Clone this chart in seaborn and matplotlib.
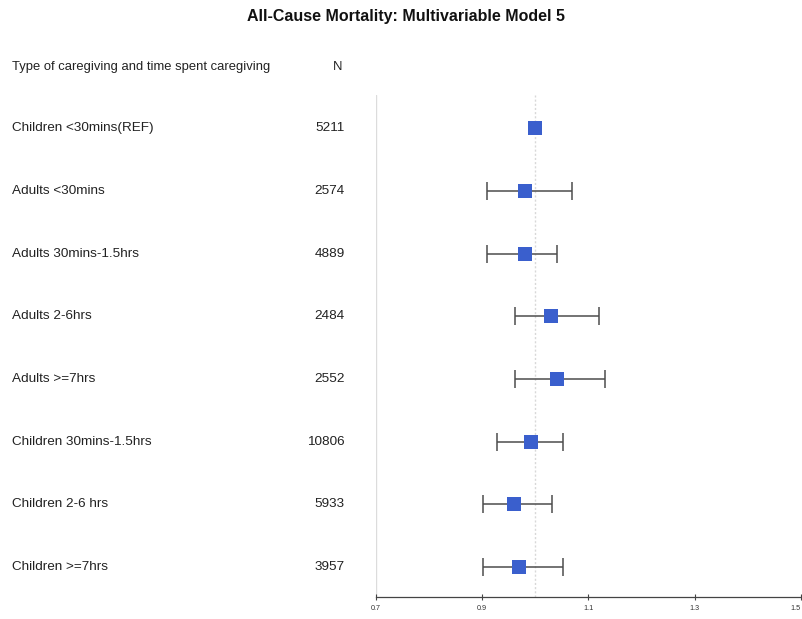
import matplotlib
matplotlib.use("Agg")
import matplotlib.pyplot as plt
import matplotlib.transforms as mtransforms
import seaborn as sns
import pandas as pd
import numpy as np

groups = ["Children <30mins(REF)", "Adults <30mins", "Adults 30mins-1.5hrs",
          "Adults 2-6hrs", "Adults >=7hrs", "Children 30mins-1.5hrs",
          "Children 2-6 hrs", "Children >=7hrs"]
n_values = ["5211", "2574", "4889", "2484", "2552", "10806", "5933", "3957"]
hr = [1.000, 0.980, 0.980, 1.030, 1.040, 0.992, 0.960, 0.969]
ci_low = [np.nan, 0.909, 0.909, 0.962, 0.962, 0.928, 0.901, 0.901]
ci_high = [np.nan, 1.069, 1.041, 1.120, 1.131, 1.052, 1.031, 1.052]
x_ticks = [0.7, 0.9, 1.1, 1.3, 1.5]
x_tick_labels = ["0.7", "0.9", "1.1", "1.3", "1.5"]

df = pd.DataFrame({"group": groups, "N": n_values, "hr": hr,
                   "lo": ci_low, "hi": ci_high, "row": range(len(groups))})

sns.set_style("white")
plt.rcParams["font.family"] = ["Liberation Sans", "DejaVu Sans"]

fig = plt.figure(figsize=(8.03, 6.19), dpi=100)
ax = fig.add_axes([376 / 803, 22 / 619, (801 - 376) / 803, (597 - 95) / 619])

# reference line and left guide line
ax.axvline(1.0, color="#d8d8d8", lw=1.0, ls=(0, (1.5, 1.5)), zorder=0)
ax.axvline(0.7, color="#dcdcdc", lw=1.0, zorder=0)

# confidence intervals
ci = df.dropna(subset=["lo", "hi"])
ax.errorbar(ci["hr"], ci["row"],
            xerr=[ci["hr"] - ci["lo"], ci["hi"] - ci["hr"]],
            fmt="none", ecolor="#4d4d4d", elinewidth=1.1,
            capsize=6.5, capthick=1.1, zorder=2)

sns.scatterplot(data=df, x="hr", y="row", marker="s", s=105,
                color="#3A5FCD", edgecolor="#3A5FCD", linewidth=0,
                ax=ax, zorder=3, legend=False)

ax.set_xlim(0.7, 1.5)
ax.set_ylim(7.48, -0.53)
ax.set_xticks(x_ticks)
ax.set_xticklabels(x_tick_labels, fontsize=5.2, color="#333333")
lbls = ax.get_xticklabels()
lbls[-1].set_horizontalalignment("right")
ax.set_yticks([])
ax.set_xlabel("")
ax.set_ylabel("")
for s in ["top", "right", "left"]:
    ax.spines[s].set_visible(False)
ax.spines["bottom"].set_color("#444444")
ax.spines["bottom"].set_linewidth(0.9)
ax.tick_params(axis="x", direction="inout", length=5, width=0.8,
               color="#444444", pad=3, bottom=True)

# left table text
trans = mtransforms.blended_transform_factory(fig.transFigure, ax.transData)
for i, row in df.iterrows():
    ax.text(12 / 803, row["row"], row["group"], transform=trans,
            ha="left", va="center", fontsize=9.7, color="#222222", clip_on=False)
    ax.text(345 / 803, row["row"], row["N"], transform=trans,
            ha="right", va="center", fontsize=9.7, color="#222222", clip_on=False)

fig.text(12 / 803, 1 - 67 / 619, "Type of caregiving and time spent caregiving",
         ha="left", va="center", fontsize=9.4, color="#222222")
fig.text(338 / 803, 1 - 67 / 619, "N", ha="center", va="center",
         fontsize=9.4, color="#222222")
fig.text(406 / 803, 1 - 17 / 619, "All-Cause Mortality: Multivariable Model 5",
         ha="center", va="center", fontsize=11.5, fontweight="bold", color="#111111")

fig.savefig("out.png", dpi=100)
